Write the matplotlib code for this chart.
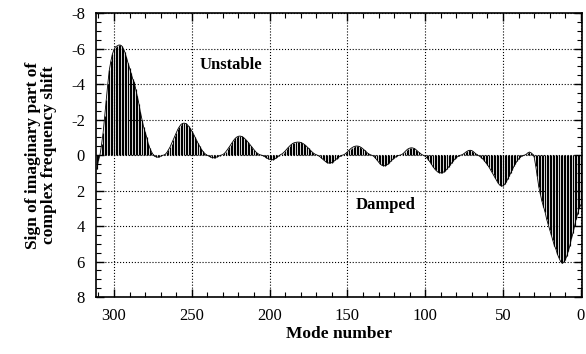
import matplotlib.pyplot as plt
import numpy as np
from matplotlib.ticker import MultipleLocator

plt.rcParams['font.family'] = ['Liberation Serif', 'DejaVu Serif']
plt.rcParams['axes.unicode_minus'] = False

# Sign of imaginary part of the frequency shift, read per mode number (311 down to 0)
vals_311_276 = [0.8, 0.3, 0.0, -0.6, -1.25, -2.2, -3.1, -4.0, -4.8, -5.3, -5.7, -5.95,
                -6.1, -6.15, -6.2, -6.2, -6.15, -6.0, -5.8, -5.5, -5.2, -4.9, -4.6, -4.3,
                -4.1, -3.7, -3.3, -2.9, -2.4, -2.0, -1.6, -1.3, -1.0, -0.65, -0.4, -0.2]
vals_275_231 = [-0.05, 0.05, 0.1, 0.12, 0.1, 0.06, 0.02, 0.0,
                -0.05, -0.15, -0.3, -0.45, -0.65, -0.85, -1.05, -1.25, -1.45, -1.6, -1.72,
                -1.78, -1.8, -1.78, -1.72, -1.62, -1.5, -1.35, -1.2, -1.02, -0.85, -0.67,
                -0.5, -0.35, -0.22, -0.12, -0.04,
                0.02, 0.06, 0.1, 0.14, 0.15, 0.14, 0.11, 0.07, 0.03, 0.0]
vals_230_194 = [-0.03, -0.1, -0.2, -0.32, -0.45, -0.58, -0.72, -0.84, -0.95, -1.02, -1.06,
                -1.07, -1.05, -1.0, -0.93, -0.84, -0.74, -0.63, -0.51, -0.4, -0.29, -0.19,
                -0.11, -0.05, -0.01,
                0.01, 0.04, 0.09, 0.15, 0.2, 0.24, 0.26, 0.26, 0.23, 0.18, 0.11, 0.04]
vals_193_153 = [-0.02, -0.07, -0.14, -0.23, -0.33, -0.43, -0.52, -0.6, -0.66, -0.7, -0.72,
                -0.73, -0.73, -0.71, -0.67, -0.62, -0.55, -0.47, -0.38, -0.29, -0.2, -0.12,
                -0.06, -0.02,
                0.02, 0.07, 0.14, 0.22, 0.3, 0.37, 0.42, 0.45, 0.45, 0.42, 0.37, 0.3, 0.22,
                0.14, 0.08, 0.03, 0.0]
vals_152_116 = [-0.03, -0.1, -0.18, -0.27, -0.35, -0.42, -0.47, -0.5, -0.51, -0.5, -0.47,
                -0.42, -0.35, -0.27, -0.19, -0.11, -0.05, -0.01,
                0.02, 0.08, 0.17, 0.28, 0.4, 0.5, 0.57, 0.6, 0.6, 0.57, 0.51, 0.43, 0.34,
                0.25, 0.17, 0.1, 0.05, 0.02, 0.0]
vals_115_77 = [-0.03, -0.1, -0.19, -0.28, -0.35, -0.39, -0.41, -0.4, -0.37, -0.31, -0.23,
               -0.15, -0.08, -0.02,
               0.02, 0.07, 0.15, 0.26, 0.38, 0.52, 0.65, 0.77, 0.87, 0.95, 0.99, 1.0, 0.99,
               0.95, 0.88, 0.79, 0.68, 0.56, 0.44, 0.33, 0.23, 0.14, 0.08, 0.03, 0.0]
vals_76_31 = [-0.03, -0.09, -0.16, -0.22, -0.26, -0.27, -0.25, -0.19, -0.11, -0.04,
              0.02, 0.07, 0.14, 0.22, 0.32, 0.43, 0.55, 0.68, 0.83, 0.98, 1.14, 1.3, 1.45,
              1.6, 1.7, 1.75, 1.73, 1.65, 1.52, 1.36, 1.18, 1.0, 0.82, 0.64, 0.48, 0.34,
              0.22, 0.13, 0.06, 0.02, 0.0,
              -0.05, -0.13, -0.17, -0.13, -0.05]
vals_30_0 = [0.1, 0.6, 1.2, 1.8, 2.2, 2.6, 2.9, 3.2, 3.6, 3.9, 4.2, 4.5, 4.8, 5.1, 5.3,
             5.6, 5.8, 6.0, 6.1, 6.05, 5.9, 5.7, 5.4, 5.1, 4.7, 4.4, 4.0, 3.6, 3.3, 3.0, 2.8]

values = np.array(vals_311_276 + vals_275_231 + vals_230_194 + vals_193_153
                  + vals_152_116 + vals_115_77 + vals_76_31 + vals_30_0)
modes = np.arange(311, 311 - len(values), -1)

fig = plt.figure(figsize=(5.86, 3.54), dpi=100)
ax = fig.add_axes([0.164, 0.161, 0.829, 0.802])

ax.vlines(modes, 0, values, color='black', lw=0.85)
ax.plot(modes, values, color='black', lw=0.6)

ax.set_xlim(311.5, -0.7)
ax.set_ylim(8, -8)
ax.xaxis.set_major_locator(MultipleLocator(50))
ax.xaxis.set_minor_locator(MultipleLocator(10))
ax.yaxis.set_major_locator(MultipleLocator(2))
ax.yaxis.set_minor_locator(MultipleLocator(0.5))
ax.tick_params(which='both', direction='in', top=True, right=True, labelsize=12, pad=8)
ax.tick_params(which='major', length=6, width=1)
ax.tick_params(which='minor', length=3.5, width=0.8)
ax.grid(True, which='major', linestyle=':', color='black', lw=0.8)
for s in ax.spines.values():
    s.set_linewidth(1.2)

ax.text(225, -5.05, 'Unstable', fontsize=12, fontweight='bold', ha='center', va='center')
ax.text(125.6, 2.84, 'Damped', fontsize=12, fontweight='bold', ha='center', va='center')

ax.set_xlabel('Mode number', fontsize=12.5, fontweight='bold', labelpad=1)
ax.set_ylabel('Sign of imaginary part of\ncomplex frequency shift', fontsize=12.5,
              fontweight='bold', linespacing=1.0, labelpad=10)

plt.savefig('out.png', dpi=100)
